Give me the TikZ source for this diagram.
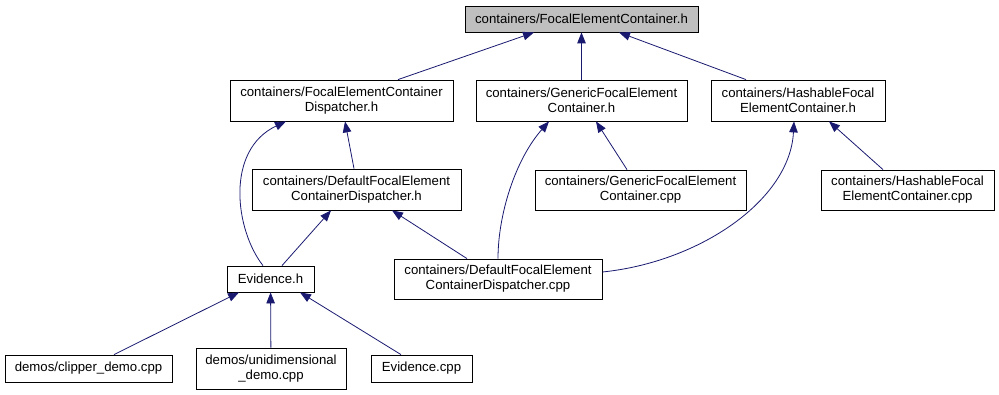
\documentclass[tikz,border=0pt]{standalone}
\usepackage{fontspec}
\setmainfont{Liberation Sans}
\usepackage{tikz}
\usetikzlibrary{arrows.meta,positioning,calc}

\definecolor{edgeblue}{HTML}{191970}

\begin{document}
\begin{tikzpicture}[x=1pt, y=-1pt,
	file/.style={rectangle, draw=black, line width=0.8pt, fill=white, inner sep=0pt,
		align=center, font=\fontsize{13.2}{15}\selectfont},
	dep/.style={draw=edgeblue, line width=0.8pt, -{Triangle[length=11pt,width=8.5pt]}, fill=none}]
	\useasboundingbox (0,0) rectangle (999,395);

	% headers
	\node (top) [file, fill=black!25, minimum width=233pt, minimum height=26pt] at (581.5,19) {containers/FocalElementContainer.h};
	\node (disp) [file, minimum width=223pt, minimum height=41pt] at (341.5,100.5) {containers/FocalElementContainer\\Dispatcher.h};
	\node (gen) [file, minimum width=211pt, minimum height=41pt] at (581.5,100.5) {containers/GenericFocalElement\\Container.h};
	\node (hash) [file, minimum width=174pt, minimum height=41pt] at (798,100.5) {containers/HashableFocal\\ElementContainer.h};
	\node (defh) [file, minimum width=209pt, minimum height=41pt] at (356.5,189.5) {containers/DefaultFocalElement\\ContainerDispatcher.h};
	\node (evh) [file, minimum width=87pt, minimum height=26pt] at (270.5,279) {Evidence.h};

	% sources
	\node (gencpp) [file, minimum width=211pt, minimum height=40pt] at (640.5,190) {containers/GenericFocalElement\\Container.cpp};
	\node (hashcpp) [file, minimum width=173pt, minimum height=40pt] at (907.5,190) {containers/HashableFocal\\ElementContainer.cpp};
	\node (defcpp) [file, minimum width=208pt, minimum height=40pt] at (498,279) {containers/DefaultFocalElement\\ContainerDispatcher.cpp};
	\node (clip) [file, minimum width=167pt, minimum height=27pt] at (88.5,368.5) {demos/clipper\_demo.cpp};
	\node (unid) [file, minimum width=150pt, minimum height=41pt] at (271,368.5) {demos/unidimensional\\\_demo.cpp};
	\node (evcpp) [file, minimum width=101pt, minimum height=27pt] at (421.5,368.5) {Evidence.cpp};

	% includes
	\draw [dep] (disp.north -| 398,0) -- (top.south -| 534,0);
	\draw [dep] (gen) -- (top);
	\draw [dep] (hash.north -| 746,0) -- (top.south -| 619,0);
	\draw [dep] (evh.north -| 263,0) .. controls (235,230) and (225,150) .. (disp.south -| 286,0);
	\draw [dep] (defh.north -| 354,0) -- (disp.south -| 345,0);
	\draw [dep] (evh.north -| 282,0) -- (defh.south -| 331,0);
	\draw [dep] (defcpp.north -| 467,0) -- (defh.south -| 392,0);
	\draw [dep] (defcpp.north -| 498,0) .. controls (498,215) and (515,160) .. (gen.south -| 549,0);
	\draw [dep] (gencpp.north -| 627,0) -- (gen.south -| 596,0);
	\draw [dep] (defcpp.east |- 0,272) .. controls (700,262) and (790,200) .. (hash.south -| 794,0);
	\draw [dep] (hashcpp.north -| 883,0) -- (hash.south -| 829,0);
	\draw [dep] (clip.north -| 114,0) -- (evh.south -| 239,0);
	\draw [dep] (unid) -- (evh);
	\draw [dep] (evcpp.north -| 401,0) -- (evh.south -| 300,0);
\end{tikzpicture}
\end{document}
